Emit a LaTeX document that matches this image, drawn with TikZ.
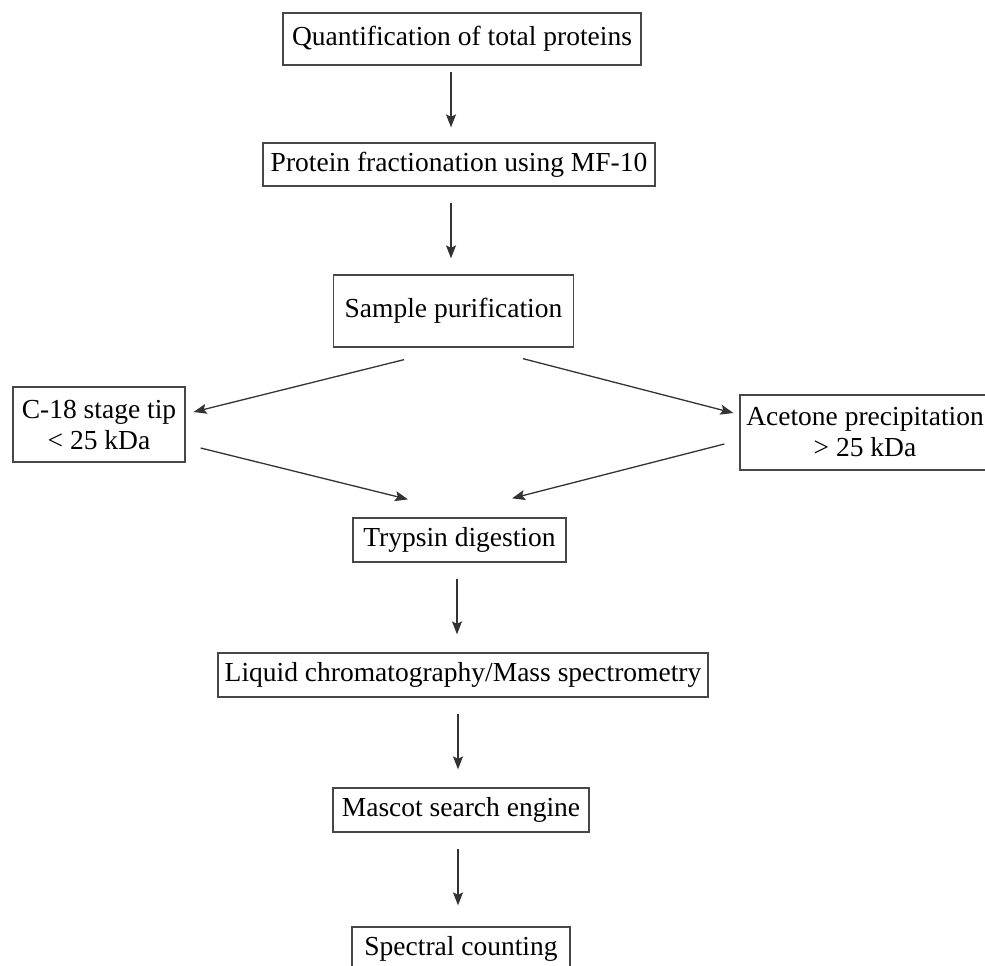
\documentclass[tikz,border=0pt]{standalone}
\usepackage{fontspec}
\setmainfont{Liberation Serif}
\usetikzlibrary{arrows.meta,calc}
\begin{document}
\begin{tikzpicture}[x=1pt,y=-1pt,
  box/.style={draw=black!72, line width=1.3pt, inner sep=0pt, align=center,
    font=\fontsize{27.5}{31}\selectfont, text=black},
  arr/.style={draw=black!80, line width=1.3pt,
    -{Stealth[length=13pt,width=10pt,inset=2.5pt]}}]
\useasboundingbox (0,0) rectangle (985,966);
\node[box, minimum width=358pt, minimum height=52pt] (q) at (462,39) {Quantification of total proteins};
\node[box, minimum width=392pt, minimum height=43pt] (p) at (459,164.5) {Protein fractionation using MF-10};
\node[box, minimum width=240pt, minimum height=72pt] (s) at (453.5,311) {Sample purification};
\node[box, minimum width=172pt, minimum height=75pt] (c) at (99,424.5) {C-18 stage tip\\ \textless{} 25 kDa};
\node[box, minimum width=250pt, minimum height=75pt] (a) at (865,432.5) {Acetone precipitation\\ \textgreater{} 25 kDa};
\node[box, minimum width=213pt, minimum height=44pt] (t) at (459.5,540) {Trypsin digestion};
\node[box, minimum width=490pt, minimum height=44pt] (l) at (463,675) {Liquid chromatography/Mass spectrometry};
\node[box, minimum width=256pt, minimum height=44pt] (m) at (461,810) {Mascot search engine};
\node[box, minimum width=218pt, minimum height=44pt] (sc) at (461,949) {Spectral counting};
\draw[arr] ($(q.south)+(-11,6)$) -- ($(p.north)+(-8,-15)$);
\draw[arr] ($(p.south)+(-8,16)$) -- ($(s.north)+(-2.5,-16)$);
\draw[arr] ($(s.south)+(-49.5,12)$) -- ($(c.east)+(8,-12.5)$);
\draw[arr] ($(s.south)+(69.5,11)$) -- ($(a.west)+(-6,-19.5)$);
\draw[arr] ($(c.east)+(15,23.5)$) -- ($(t.north)+(-51.5,-18)$);
\draw[arr] ($(a.west)+(-15,11.5)$) -- ($(t.north)+(52.5,-19)$);
\draw[arr] ($(t.south)+(-2.5,16)$) -- ($(l.north)+(-6,-18)$);
\draw[arr] ($(l.south)+(-5,16)$) -- ($(m.north)+(-3,-18)$);
\draw[arr] ($(m.south)+(-3,16)$) -- ($(sc.north)+(-3,-21)$);
\end{tikzpicture}
\end{document}
